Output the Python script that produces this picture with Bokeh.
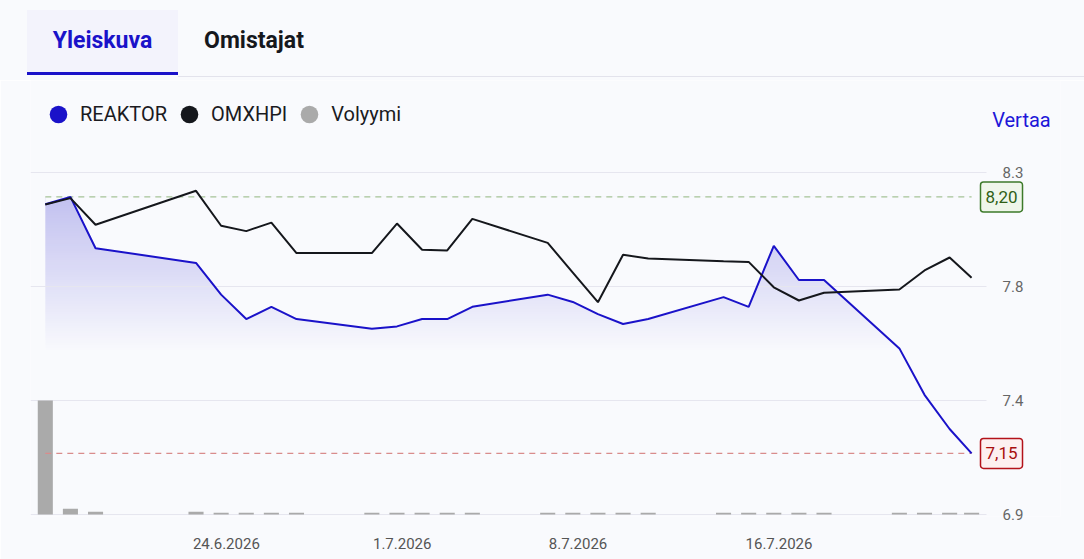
import numpy as np
import pandas as pd
from bokeh.plotting import figure
from bokeh.models import (Range1d, FixedTicker, PrintfTickFormatter, Legend, LegendItem,
                          Label, ColumnDataSource, Div, Grid)
from bokeh.layouts import column
from bokeh.embed import file_html
from bokeh.resources import INLINE

# ------------------------------------------------------------------ data
dates = [
    "2026-06-16 19:00", "2026-06-17 19:00", "2026-06-18 19:00",
    "2026-06-22 19:00", "2026-06-23 19:00", "2026-06-24 19:00", "2026-06-25 19:00", "2026-06-26 19:00",
    "2026-06-29 19:00", "2026-06-30 19:00", "2026-07-01 19:00", "2026-07-02 19:00", "2026-07-03 19:00",
    "2026-07-06 19:00", "2026-07-07 19:00", "2026-07-08 19:00", "2026-07-09 19:00", "2026-07-10 19:00",
    "2026-07-13 19:00", "2026-07-14 19:00", "2026-07-15 19:00", "2026-07-16 19:00", "2026-07-17 19:00",
    "2026-07-20 19:00", "2026-07-21 19:00", "2026-07-22 19:00", "2026-07-23 16:00",
]
reaktor = [8.17, 8.20, 7.99, 7.93, 7.80, 7.70, 7.75, 7.70, 7.66, 7.67, 7.70, 7.70, 7.75,
           7.80, 7.77, 7.72, 7.68, 7.70, 7.79, 7.75, 8.00, 7.86, 7.86, 7.58, 7.39, 7.25, 7.15]
omxhpi = [8.169, 8.195, 8.086, 8.225, 8.082, 8.060, 8.095, 7.970, 7.970, 8.091, 7.984, 7.981, 8.110,
          8.012, 7.890, 7.769, 7.963, 7.948, 7.937, 7.934, 7.830, 7.776, 7.808, 7.821, 7.899, 7.952, 7.869]
volume = [120000, 6000, 2800, 2800, 1900, 1900, 1900, 1900, 1900, 1900, 1900, 1900, 1900,
          1900, 1900, 1900, 1900, 1900, 1900, 1900, 1900, 1900, 1900, 1900, 1900, 1900, 1900]
series_names = ["REAKTOR", "OMXHPI", "Volyymi"]
tab_labels = ["Yleiskuva", "Omistajat"]
compare_label = "Vertaa"
x_tick_dates = ["2026-06-24", "2026-07-01", "2026-07-08", "2026-07-16"]
x_tick_labels = ["24.6.2026", "1.7.2026", "8.7.2026", "16.7.2026"]
y_tick_values = [6.9, 7.3667, 7.8333, 8.3]

# ------------------------------------------------------------------ style / layout
BG = "#f9fafd"
BLUE = "#1a12c9"
BLACK = "#15171c"
GREY = "#aaaaaa"
GRID = "#e6e6ef"
FONT = "Roboto"
DAY_MS = 86400000.0

W = 1084
H_TABS = 80
H_CHART = 559 - H_TABS
BL, BR, BT, BB = 30, 24, 0, 43
FRAME_W = W - BL - BR
FRAME_H = H_CHART - BT - BB
PX_PER_DAY = 25.12
FIRST_OFFSET_PX = 14.8          # frame left -> first point
GRID_END_PX = 956               # frame left -> grid end
TOP_PAD_PX, BOTTOM_PAD_PX = 92, 2
FILL_LO = 7.56

t = pd.to_datetime(pd.Series(dates))
t_ms = (t - pd.Timestamp("1970-01-01")) / pd.Timedelta(milliseconds=1)
src = ColumnDataSource(dict(date=t, reaktor=reaktor, omxhpi=omxhpi, volume=volume))

x_start = t_ms.iloc[0] - FIRST_OFFSET_PX / PX_PER_DAY * DAY_MS
x_end = x_start + FRAME_W / PX_PER_DAY * DAY_MS
x_grid_end = x_start + GRID_END_PX / PX_PER_DAY * DAY_MS
ppu = (FRAME_H - TOP_PAD_PX - BOTTOM_PAD_PX) / (y_tick_values[-1] - y_tick_values[0])
y_range = Range1d(y_tick_values[0] - BOTTOM_PAD_PX / ppu, y_tick_values[-1] + TOP_PAD_PX / ppu)
v_ppu = (y_tick_values[1] - y_tick_values[0]) * ppu / max(volume)
v_start = -BOTTOM_PAD_PX / v_ppu

# ------------------------------------------------------------------ tabs (HTML)
tabs_html = f"""
<div style="position:relative;width:{W}px;height:{H_TABS}px;background:{BG};font-family:Roboto,sans-serif;">
  <div style="position:absolute;left:27px;top:10px;width:151px;height:62px;background:#f3f3fc;"></div>
  <div style="position:absolute;left:27px;top:72px;width:151px;height:3px;background:{BLUE};"></div>
  <div style="position:absolute;left:178px;top:76px;width:{W - 178}px;height:1px;background:#e3e3ec;"></div>
  <div style="position:absolute;left:27px;top:10px;width:151px;height:62px;line-height:62px;text-align:center;
              font-weight:bold;font-size:23px;color:{BLUE};">{tab_labels[0]}</div>
  <div style="position:absolute;left:178px;top:10px;width:152px;height:62px;line-height:62px;text-align:center;
              font-weight:bold;font-size:23px;color:#16181d;">{tab_labels[1]}</div>
</div>
"""
tabs = Div(text=tabs_html, width=W, height=H_TABS, margin=0)

# ------------------------------------------------------------------ chart figure
p = figure(width=W, height=H_CHART, x_axis_type="datetime", y_axis_location="right",
           x_range=Range1d(x_start, x_end), y_range=y_range,
           toolbar_location=None, output_backend="svg",
           min_border_left=BL, min_border_right=BR, min_border_top=BT, min_border_bottom=BB,
           background_fill_color=BG, border_fill_color=BG, outline_line_color=None)
p.extra_y_ranges = {"vol": Range1d(v_start, v_start + FRAME_H / v_ppu)}

# gradient area under REAKTOR: vertical gradient image, masked above the line
M = 200
img = np.zeros((M, 1), dtype=np.uint32)
view = img.view(dtype=np.uint8).reshape((M, 1, 4))
view[:, 0, 0] = 26
view[:, 0, 1] = 18
view[:, 0, 2] = 201
view[:, 0, 3] = np.linspace(0, 64, M).astype(np.uint8)
hi = max(reaktor)
lo = min(reaktor)
span = t_ms.iloc[-1] - t_ms.iloc[0]
p.image_rgba(image=[img], x=t_ms.iloc[0], y=FILL_LO, dw=span - 0.1 * DAY_MS,
             dh=hi - FILL_LO, level="image")
p.varea(x="date", y1="reaktor", y2=hi, source=src, fill_color=BG, level="image")

# volume bars
p.vbar(x="date", top="volume", width=0.6 * DAY_MS, source=src, y_range_name="vol",
       fill_color=GREY, line_color=None)

# high / low reference lines
x_ends = [t_ms.iloc[0], t_ms.iloc[-1]]
p.line(x=x_ends, y=[hi, hi], line_color="#a6c497", line_width=1.3, line_dash="6 5")
p.line(x=x_ends, y=[lo, lo], line_color="#d98c8c", line_width=1.3, line_dash="6 5")

# series lines
p.line(x="date", y="reaktor", source=src, line_color=BLUE, line_width=2)
p.line(x="date", y="omxhpi", source=src, line_color=BLACK, line_width=2)

# grid
p.xgrid.visible = False
if "cross_bounds" in Grid.properties():
    p.ygrid.grid_line_color = GRID
    p.ygrid.cross_bounds = (x_start, x_grid_end)
else:
    p.ygrid.visible = False
    p.segment(x0=x_start, x1=x_grid_end, y0=y_tick_values, y1=y_tick_values,
              line_color=GRID, line_width=1, level="underlay")

# axes
ya = p.yaxis[0]
ya.ticker = FixedTicker(ticks=y_tick_values)
ya.formatter = PrintfTickFormatter(format="%.1f")
ya.axis_line_color = None
ya.major_tick_line_color = None
ya.minor_tick_line_color = None
ya.major_label_standoff = -(BL + FRAME_W - 996)
ya.major_label_text_font = FONT
ya.major_label_text_font_size = "15px"
ya.major_label_text_color = "#666666"

x_tick_ms = [float(pd.Timestamp(d).timestamp() * 1000) for d in x_tick_dates]
xa = p.xaxis[0]
xa.ticker = FixedTicker(ticks=x_tick_ms)
xa.major_label_overrides = dict(zip(x_tick_ms, x_tick_labels))
xa.axis_line_color = None
xa.major_tick_line_color = None
xa.minor_tick_line_color = None
xa.major_label_standoff = 15
xa.major_label_text_font = FONT
xa.major_label_text_font_size = "15px"
xa.major_label_text_color = "#555555"

# legend (circle markers drawn by zero-size scatter renderers of each series)
leg_r = [
    p.scatter(x="date", y="reaktor", source=src, size=0, marker="circle", fill_color=BLUE, line_color=None),
    p.scatter(x="date", y="omxhpi", source=src, size=0, marker="circle", fill_color=BLACK, line_color=None),
    p.scatter(x="date", y="volume", source=src, size=0, marker="circle", fill_color=GREY, line_color=None,
              y_range_name="vol"),
]
GLYPH = 44
legend = Legend(items=[LegendItem(label=n, renderers=[r]) for n, r in zip(series_names, leg_r)],
                orientation="horizontal", location=(6, FRAME_H - (136 - H_TABS)),
                glyph_width=GLYPH, glyph_height=GLYPH, label_standoff=0, spacing=0,
                padding=0, margin=0, border_line_color=None, background_fill_alpha=0,
                label_text_font=FONT, label_text_font_size="20px", label_text_color="#1b1b1f")
p.add_layout(legend)

# compare link
p.add_layout(Label(x=991.7, y=119.5 - H_TABS, x_units="canvas", y_units="canvas", text=compare_label,
                   text_font=FONT, text_font_size="20px", text_color="#2016d8",
                   text_baseline="alphabetic", text_align="left"))

# high / low value boxes
def fmt(v):
    return f"{v:.2f}".replace(".", ",")

for val, tc, bg, bc in ((hi, "#2f5f16", "#eff6ea", "#3d7a2a"), (lo, "#a80d0d", "#fdf0f0", "#b3121a")):
    p.add_layout(Label(x=1001, x_units="canvas", y=val, y_units="data", text=fmt(val),
                       text_font=FONT, text_font_size="17px", text_color=tc,
                       text_align="center", text_baseline="middle", padding=(5, 9),
                       background_fill_color=bg, border_line_color=bc,
                       border_line_width=1.5, border_radius=3))

layout = column(tabs, p, spacing=0)
open("out.html", "w").write(file_html(layout, INLINE))
